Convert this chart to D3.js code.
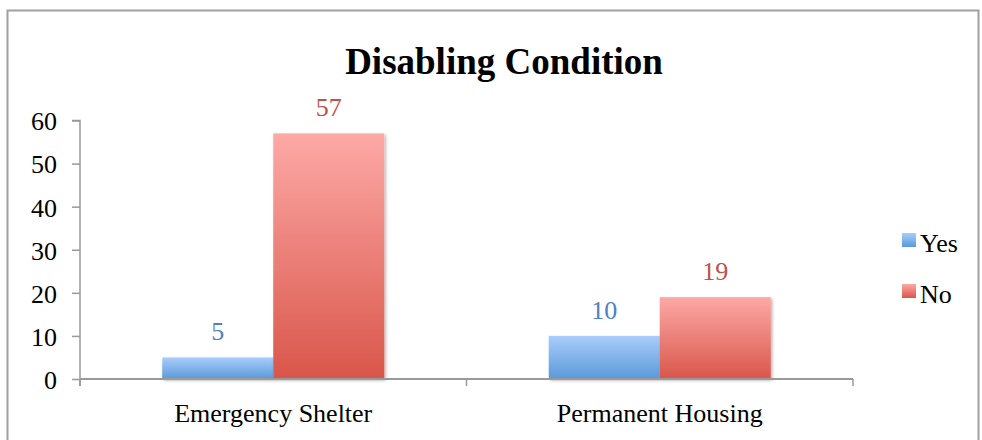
<!DOCTYPE html>
<html><head><meta charset="utf-8">
<script src="https://cdn.jsdelivr.net/npm/d3@7"></script>
<style>body{margin:0;background:#fff;} svg{display:block;}</style>
</head><body>
<script>
const categories = ["Emergency Shelter", "Permanent Housing"];
const seriesNames = ["Yes", "No"];
const yesValues = [5, 10];
const noValues = [57, 19];
const yTicks = [0, 10, 20, 30, 40, 50, 60];

(function () {
const W = 982, H = 440;
const svg = d3.select("body").append("svg").attr("width", W).attr("height", H);
const font = "'Liberation Serif','Times New Roman',serif";
const fs = 26;

const defs = svg.append("defs");
const grads = [["gBlue", "#a9cdfb", "#5a99d8"], ["gRed", "#fda9a6", "#d9564a"]];
grads.forEach(([id, a, b]) => {
  const g = defs.append("linearGradient").attr("id", id).attr("x1", 0).attr("y1", 0).attr("x2", 0).attr("y2", 1);
  g.append("stop").attr("offset", "0%").attr("stop-color", a);
  g.append("stop").attr("offset", "100%").attr("stop-color", b);
});
const f = defs.append("filter").attr("id", "sh").attr("x", "-10%").attr("y", "-10%").attr("width", "130%").attr("height", "130%");
f.append("feDropShadow").attr("dx", 1.5).attr("dy", 1.5).attr("stdDeviation", 1.5).attr("flood-color", "#000").attr("flood-opacity", 0.3);

// outer border
svg.append("rect").attr("x", 7.5).attr("y", 10.5).attr("width", 971).attr("height", 440)
  .attr("fill", "none").attr("stroke", "#a0a0a0").attr("stroke-width", 2);

const pLeft = 80, pRight = 853, pTop = 120.5, pBottom = 379;
const x0 = d3.scaleBand().domain(categories).range([pLeft, pRight]).paddingInner(0).paddingOuter(0);
const y = d3.scaleLinear().domain([0, 60]).range([pBottom, pTop]);
const x1 = d3.scaleBand().domain(seriesNames).range([0, 222]);
const groupOffset = (x0.bandwidth() - 222) / 2;

// title
svg.append("text").attr("x", 504).attr("y", 74).attr("text-anchor", "middle")
  .attr("font-family", font).attr("font-weight", "bold").attr("font-size", 37).attr("fill", "#000")
  .text("Disabling Condition");

// bars
const data = categories.map((c, i) => ({ c, vals: [yesValues[i], noValues[i]] }));
const fills = ["url(#gBlue)", "url(#gRed)"];
const labelColors = ["#4f81bd", "#c0504d"];
const g = svg.append("g");
data.forEach(d => {
  seriesNames.forEach((s, j) => {
    const v = d.vals[j];
    const bx = x0(d.c) + groupOffset + x1(s);
    g.append("rect").attr("x", bx).attr("y", y(v)).attr("width", x1.bandwidth()).attr("height", y(0) - y(v))
      .attr("fill", fills[j]).attr("filter", "url(#sh)");
    g.append("text").attr("x", bx + x1.bandwidth() / 2).attr("y", y(v) - 17).attr("text-anchor", "middle")
      .attr("font-family", font).attr("font-size", fs).attr("fill", labelColors[j]).text(v);
  });
});

// y axis
const yAxis = svg.append("g").attr("transform", `translate(${pLeft},0)`)
  .call(d3.axisLeft(y).tickValues(yTicks).tickSize(8).tickPadding(15));
yAxis.select(".domain").attr("stroke", "#999").attr("stroke-width", 1.5).attr("d", `M-8,${pTop}H0V${pBottom + 7}`);
yAxis.selectAll(".tick line").attr("stroke", "#999").attr("stroke-width", 1.5);
yAxis.selectAll(".tick text").attr("font-family", font).attr("font-size", fs).attr("fill", "#000").attr("dy", "0.36em");

// x axis
const xAxis = svg.append("g").attr("transform", `translate(0,${pBottom})`);
xAxis.append("path").attr("d", `M${pLeft},0H${pRight}`).attr("stroke", "#999").attr("stroke-width", 2);
const boundaries = [pLeft, ...categories.map(c => x0(c) + x0.bandwidth())];
xAxis.selectAll(".xt").data(boundaries).join("line")
  .attr("x1", d => d).attr("x2", d => d).attr("y1", 0).attr("y2", 7)
  .attr("stroke", "#999").attr("stroke-width", 1.5);
xAxis.selectAll(".xl").data(categories).join("text")
  .attr("x", d => x0(d) + x0.bandwidth() / 2).attr("y", 43).attr("text-anchor", "middle")
  .attr("font-family", font).attr("font-size", fs).attr("fill", "#000").text(d => d);

// legend
const legY = [240, 291];
seriesNames.forEach((s, j) => {
  svg.append("rect").attr("x", 902).attr("y", legY[j] - 7).attr("width", 14).attr("height", 14).attr("fill", fills[j]);
  svg.append("text").attr("x", 920).attr("y", legY[j] + 12).attr("font-family", font).attr("font-size", fs)
    .attr("fill", "#000").text(s);
});
})();
</script>
</body></html>
